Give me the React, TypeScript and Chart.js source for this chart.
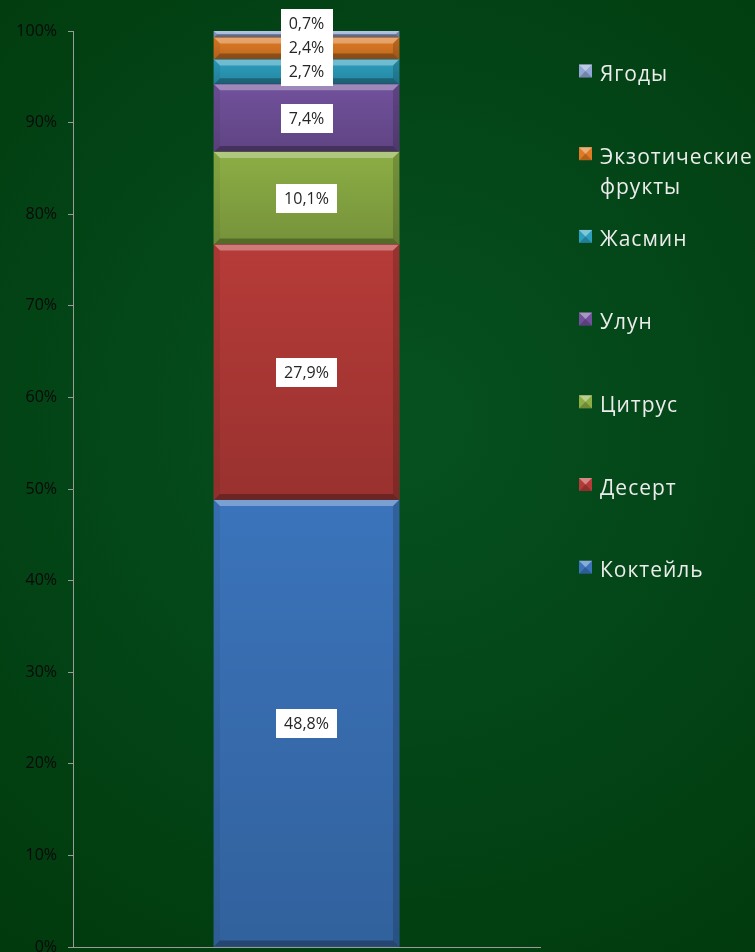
import React, { useEffect, useRef } from "react";
import { Chart, registerables } from "chart.js";

Chart.register(...registerables);

const categories = [""];
const seriesNames = [
  "Коктейль",
  "Десерт",
  "Цитрус",
  "Улун",
  "Жасмин",
  "Экзотические фрукты",
  "Ягоды",
];
const seriesValues = [48.8, 27.9, 10.1, 7.4, 2.7, 2.4, 0.7];
const seriesColors = [
  "#3b74bb",
  "#b63b38",
  "#8cae45",
  "#71519c",
  "#2c9fbf",
  "#e07b24",
  "#92a7d6",
];
const yMin = 0;
const yMax = 100;
const yStep = 10;

const fmt = (v: number) => v.toFixed(1).replace(".", ",") + "%";

const bgPlugin = {
  id: "bg",
  beforeDraw(chart: any) {
    const { ctx, width, height } = chart;
    ctx.save();
    const g = ctx.createRadialGradient(400, 420, 20, 400, 420, 720);
    g.addColorStop(0, "#065020");
    g.addColorStop(1, "#00380b");
    ctx.fillStyle = g;
    ctx.fillRect(0, 0, width, height);
    ctx.restore();
  },
};

const bevelPlugin = {
  id: "bevel",
  afterDatasetsDraw(chart: any) {
    const ctx = chart.ctx;
    chart.data.datasets.forEach((_ds: any, i: number) => {
      const meta = chart.getDatasetMeta(i);
      meta.data.forEach((el: any) => {
        const l = el.x - el.width / 2;
        const r = el.x + el.width / 2;
        const t = Math.min(el.y, el.base);
        const b = Math.max(el.y, el.base);
        const h = b - t;
        const bv = Math.min(6, h / 2);
        ctx.save();
        const g = ctx.createLinearGradient(0, t, 0, b);
        g.addColorStop(0, "rgba(0,0,0,0)");
        g.addColorStop(1, "rgba(0,0,0,0.16)");
        ctx.fillStyle = g;
        ctx.fillRect(l, t, r - l, h);
        const poly = (pts: number[][], c: string) => {
          ctx.beginPath();
          ctx.moveTo(pts[0][0], pts[0][1]);
          for (let k = 1; k < pts.length; k++) ctx.lineTo(pts[k][0], pts[k][1]);
          ctx.closePath();
          ctx.fillStyle = c;
          ctx.fill();
        };
        poly([[l, t], [r, t], [r - bv, t + bv], [l + bv, t + bv]], "rgba(255,255,255,0.32)");
        poly([[l, b], [r, b], [r - bv, b - bv], [l + bv, b - bv]], "rgba(0,0,0,0.28)");
        poly([[l, t], [l + bv, t + bv], [l + bv, b - bv], [l, b]], "rgba(0,0,0,0.06)");
        poly([[r, t], [r - bv, t + bv], [r - bv, b - bv], [r, b]], "rgba(0,0,0,0.16)");
        ctx.restore();
      });
    });
  },
};

const labelPlugin = {
  id: "valueLabels",
  afterDatasetsDraw(chart: any) {
    const ctx = chart.ctx;
    const items = chart.data.datasets.map((ds: any, i: number) => {
      const el = chart.getDatasetMeta(i).data[0] as any;
      return { x: el.x, y: (el.y + el.base) / 2, text: fmt(ds.data[0]) };
    });
    const minGap = 24;
    for (let i = 1; i < items.length; i++) {
      if (items[i].y > items[i - 1].y - minGap) items[i].y = items[i - 1].y - minGap;
    }
    ctx.save();
    ctx.font = '16px "Open Sans"';
    ctx.textAlign = "center";
    ctx.textBaseline = "middle";
    items.forEach((it: any) => {
      const w = ctx.measureText(it.text).width + 16;
      const h = 29;
      ctx.fillStyle = "#ffffff";
      ctx.fillRect(Math.round(it.x - w / 2), Math.round(it.y - h / 2), Math.round(w), h);
      ctx.fillStyle = "#262626";
      ctx.fillText(it.text, it.x, it.y + 1);
    });
    ctx.restore();
  },
};

const legendPlugin = {
  id: "sideLegend",
  afterDraw(chart: any) {
    const ctx = chart.ctx;
    const n = seriesNames.length;
    const startY = 74;
    const step = 82.7;
    const markerX = 579;
    const textX = 600;
    const maxW = 755 - textX;
    ctx.save();
    ctx.font = '21px "Open Sans"';
    (ctx as any).letterSpacing = "1px";
    ctx.textAlign = "left";
    ctx.textBaseline = "alphabetic";
    for (let k = 0; k < n; k++) {
      const idx = n - 1 - k;
      const y = startY + k * step;
      const words = seriesNames[idx].split(" ");
      const lines: string[] = [];
      let cur = "";
      words.forEach((w) => {
        const test = cur ? cur + " " + w : w;
        if (cur && ctx.measureText(test).width > maxW) {
          lines.push(cur);
          cur = w;
        } else cur = test;
      });
      if (cur) lines.push(cur);
      ctx.fillStyle = "#ececec";
      lines.forEach((ln, li) => ctx.fillText(ln, textX, y + 7 + li * 30));
      const s = 13;
      const mx = markerX;
      const my = y - 3 - s / 2;
      ctx.fillStyle = seriesColors[idx];
      ctx.fillRect(mx, my, s, s);
      ctx.beginPath();
      ctx.moveTo(mx, my);
      ctx.lineTo(mx + s, my);
      ctx.lineTo(mx + s / 2, my + s / 2);
      ctx.closePath();
      ctx.fillStyle = "rgba(255,255,255,0.4)";
      ctx.fill();
      ctx.beginPath();
      ctx.moveTo(mx, my + s);
      ctx.lineTo(mx + s, my + s);
      ctx.lineTo(mx + s / 2, my + s / 2);
      ctx.closePath();
      ctx.fillStyle = "rgba(0,0,0,0.2)";
      ctx.fill();
    }
    ctx.restore();
  },
};

export default function App() {
  const ref = useRef<HTMLCanvasElement | null>(null);
  useEffect(() => {
    if (!ref.current) return;
    const chart = new Chart(ref.current, {
      type: "bar",
      data: {
        labels: categories,
        datasets: seriesNames.map((name, i) => ({
          label: name,
          data: [seriesValues[i]],
          backgroundColor: seriesColors[i],
          borderWidth: 0,
          barThickness: 185,
        })),
      },
      options: {
        responsive: false,
        animation: false,
        layout: { padding: { top: 31, right: 215, bottom: 5, left: 0 } },
        plugins: {
          legend: { display: false },
          tooltip: { enabled: false },
        },
        scales: {
          x: {
            stacked: true,
            grid: { display: false },
            ticks: { display: false },
            border: { color: "#9a9a9a", width: 1 },
            afterFit: (s: any) => {
              s.height = 0;
              s.paddingLeft = 0;
              s.paddingRight = 0;
            },
          },
          y: {
            stacked: true,
            min: yMin,
            max: yMax,
            ticks: {
              stepSize: yStep,
              callback: (v: any) => v + "%",
              color: "#0a0a0a",
              font: { family: "Open Sans", size: 16 },
              padding: 11,
            },
            grid: { drawOnChartArea: false, drawTicks: true, tickLength: 5, color: "#9a9a9a" },
            border: { color: "#9a9a9a", width: 1 },
            afterFit: (s: any) => {
              s.width = 73;
              s.paddingTop = 0;
              s.paddingBottom = 0;
            },
          },
        },
      },
      plugins: [bgPlugin, bevelPlugin, labelPlugin, legendPlugin],
    });
    return () => chart.destroy();
  }, []);
  return (
    <div style={{ position: "absolute", left: 0, top: 0, width: 755, height: 952 }}>
      <canvas ref={ref} width={755} height={952} />
    </div>
  );
}
